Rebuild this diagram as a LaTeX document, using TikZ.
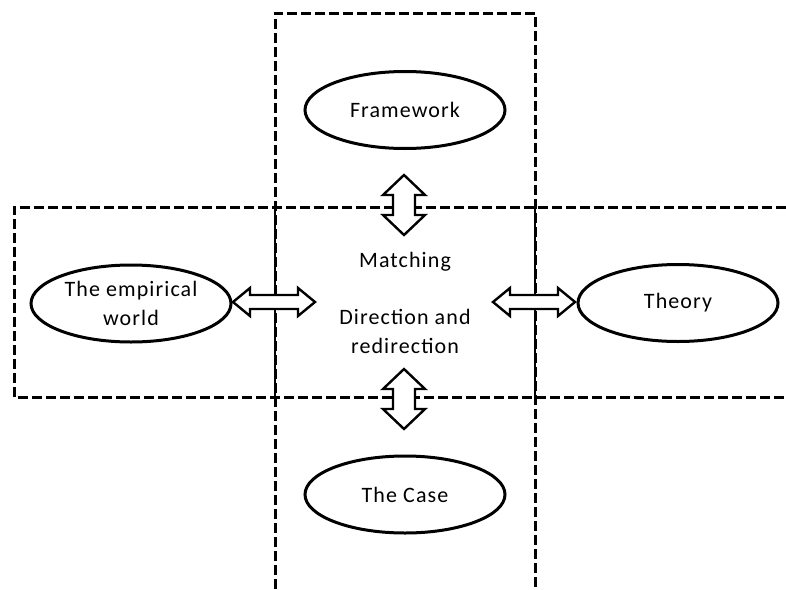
\documentclass[tikz,border=0pt]{standalone}
\usepackage{fontspec}
\setmainfont{Carlito}[LetterSpace=5]
\usetikzlibrary{shapes.geometric}

\tikzset{
  frameline/.style={line width=3pt, dash pattern=on 10pt off 4pt},
  coreline/.style={line width=1.6pt},
  concept/.style={ellipse, draw, line width=3pt, fill=white,
    minimum width=200pt, minimum height=77pt, inner sep=0pt,
    align=center, font=\fontsize{22pt}{29pt}\selectfont},
  label/.style={align=center, font=\fontsize{22pt}{29pt}\selectfont},
  arrowline/.style={draw, fill=white, line width=2.4pt, line join=miter},
  pics/vdarrow/.style={code={
    \path[arrowline] (0,-30) -- (21,-10) -- (11,-10) -- (11,10) -- (21,10)
      -- (0,30) -- (-21,10) -- (-11,10) -- (-11,-10) -- (-21,-10) -- cycle;}},
  pics/hdarrow/.style={code={
    \path[arrowline] (-41,0) -- (-24,-14) -- (-24,-7) -- (24,-7) -- (24,-14)
      -- (41,0) -- (24,14) -- (24,7) -- (-24,7) -- (-24,14) -- cycle;}},
}

\begin{document}
\begin{tikzpicture}[x=1pt, y=-1pt]
  \useasboundingbox (0,0) rectangle (786,589);

  % solid sides of the central field
  \draw[coreline] (275,207) -- (275,397);
  \draw[coreline] (535,207) -- (535,397);

  % vertical and horizontal dashed bands
  \draw[frameline] (275,589) -- (275,13) -- (535,13) -- (535,589);
  \draw[frameline] (786,207) -- (14,207) -- (14,397) -- (786,397);

  % concepts
  \node[concept] (frame)  at (405,110) {Framework};
  \node[concept] (world)  at (131,303.5) {The empirical\\world};
  \node[concept] (theory) at (678,303) {Theory};
  \node[concept] (case)   at (405,494.5) {The Case};

  % central texts
  \node[label, anchor=base] (match) at (405,267) {Matching};
  \node[label, anchor=north] (direct) at (405,306) {Direction and\\redirection};

  % double-headed block arrows
  \coordinate (aTop)    at (404,205);
  \coordinate (aBottom) at (404,399);
  \coordinate (aLeft)   at (274,302);
  \coordinate (aRight)  at (534,302);
  \pic at (aTop) {vdarrow};
  \pic at (aBottom) {vdarrow};
  \pic at (aLeft) {hdarrow};
  \pic at (aRight) {hdarrow};
\end{tikzpicture}
\end{document}
